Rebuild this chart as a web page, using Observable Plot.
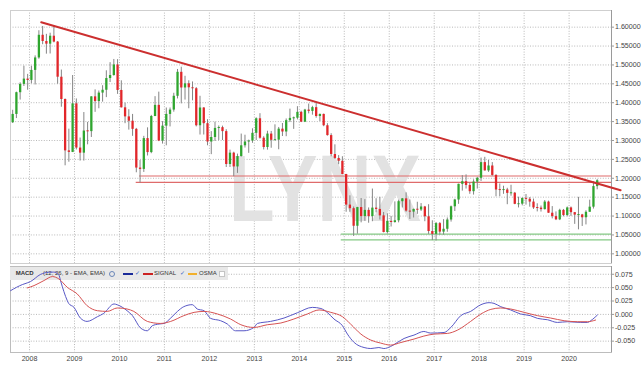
<!DOCTYPE html>
<html><head><meta charset="utf-8">
<script src="https://cdn.jsdelivr.net/npm/d3@7"></script>
<script src="https://cdn.jsdelivr.net/npm/@observablehq/plot@0.6"></script>
<style>
html,body{margin:0;padding:0;background:#fff;}
#wrap{position:relative;width:641px;height:376px;overflow:hidden;font-family:"Liberation Sans",Arial,sans-serif;background:#fff;}
#wrap svg{position:absolute;left:0;}
#hdr{position:absolute;left:10px;top:267px;width:218px;height:13px;background:#e8e8e8;font-size:6px;color:#333;line-height:13px;}
#hdr span{position:absolute;top:0;white-space:nowrap;}
#hdr .ln{top:6px;height:1.5px;width:10px;}
#hdr .ck{color:#3a62c4;font-size:6px;}
</style></head>
<body>
<div id="wrap">
  <div id="hdr">
    <span style="left:5.7px;font-weight:bold;">MACD</span>
    <span style="left:33px;">(12, 26, 9 - EMA, EMA)</span>
    <span style="left:99px;top:4px;width:4px;height:4px;border:1px solid #6a86b8;border-radius:50%;"></span>
    <span class="ln" style="left:112.5px;background:#1a2a99;"></span>
    <span class="ck" style="left:124.5px;">✓</span>
    <span class="ln" style="left:132.5px;background:#cc2222;"></span>
    <span style="left:144px;">SIGNAL</span>
    <span class="ck" style="left:169.5px;">✓</span>
    <span class="ln" style="left:178px;width:9px;background:#f2b02c;"></span>
    <span style="left:189px;">OSMA</span>
    <span style="left:209px;top:4px;width:4px;height:4px;background:#fff;border:1px solid #c4c4c4;"></span>
  </div>
</div>
<script>
// ---- tick labels / categories ----
const years = [2008,2009,2010,2011,2012,2013,2014,2015,2016,2017,2018,2019,2020];
const priceTicks = [1.00,1.05,1.10,1.15,1.20,1.25,1.30,1.35,1.40,1.45,1.50,1.55,1.60];
const macdTicks = [-0.050,-0.025,0.000,0.025,0.050,0.075];
const startYear = 2007, startMonth = 8; // first monthly candle: Aug 2007

// ---- monthly OHLC (EUR/USD), Aug 2007 .. Aug 2020 ----
const opens = [
  1.3470,1.3690,1.4265,1.4485,1.4625,
  1.4590,1.4855,1.5185,1.5785,1.5620,1.5550,1.5760,1.5605,1.4675,1.4085,1.2725,1.2685,
  1.3970,1.2800,1.2665,1.3250,1.3235,1.4155,1.4030,1.4255,1.4330,1.4640,1.4720,1.5000,
  1.4325,1.3865,1.3625,1.3510,1.3295,1.2270,1.2235,1.3050,1.2680,1.3635,1.3930,1.2985,
  1.3380,1.3690,1.3805,1.4170,1.4805,1.4390,1.4500,1.4395,1.4370,1.3390,1.3860,1.3445,
  1.2960,1.3080,1.3320,1.3340,1.3235,1.2365,1.2665,1.2300,1.2575,1.2860,1.2960,1.2985,
  1.3190,1.3575,1.3060,1.2815,1.3170,1.3005,1.3010,1.3300,1.3225,1.3525,1.3585,1.3590,
  1.3745,1.3485,1.3805,1.3770,1.3870,1.3635,1.3690,1.3390,1.3130,1.2630,1.2525,1.2450,
  1.2100,1.1290,1.1195,1.0730,1.1225,1.0985,1.1150,1.0985,1.1210,1.1175,1.1005,1.0565,
  1.0860,1.0830,1.0875,1.1380,1.1455,1.1130,1.1105,1.1175,1.1160,1.1240,1.0980,1.0590,
  1.0515,1.0800,1.0575,1.0650,1.0895,1.1245,1.1425,1.1840,1.1910,1.1810,1.1645,1.1900,
  1.2000,1.2415,1.2195,1.2325,1.2075,1.1690,1.1685,1.1690,1.1600,1.1605,1.1310,1.1315,
  1.1465,1.1445,1.1370,1.1215,1.1210,1.1170,1.1370,1.1075,1.0985,1.0900,1.1150,1.1015,
  1.1215,1.1090,1.1025,1.1030,1.0955,1.1100,1.1235,1.1780
];
const highs = [
  1.3800,1.4280,1.4527,1.4967,1.4750,
  1.4966,1.5240,1.5905,1.6018,1.5810,1.5840,1.6038,1.5620,1.4865,1.4100,1.3300,1.4720,
  1.4100,1.3065,1.3740,1.3480,1.4160,1.4340,1.4310,1.4450,1.4845,1.5060,1.5145,1.5140,
  1.4580,1.3990,1.3815,1.3690,1.3320,1.2470,1.3110,1.3335,1.3665,1.4160,1.4280,1.3500,
  1.3860,1.3860,1.4250,1.4880,1.4940,1.4700,1.4580,1.4550,1.4400,1.4170,1.3870,1.3550,
  1.3235,1.3485,1.3385,1.3380,1.3285,1.2745,1.2690,1.2640,1.3170,1.3140,1.3010,1.3310,
  1.3600,1.3710,1.3100,1.3245,1.3240,1.3415,1.3345,1.3450,1.3570,1.3830,1.3620,1.3895,
  1.3775,1.3825,1.3965,1.3905,1.3995,1.3700,1.3700,1.3445,1.3180,1.2885,1.2600,1.2570,
  1.2105,1.1535,1.1240,1.1230,1.1465,1.1435,1.1215,1.1715,1.1460,1.1495,1.1095,1.1060,
  1.0990,1.1375,1.1420,1.1465,1.1615,1.1425,1.1185,1.1365,1.1330,1.1255,1.1300,1.0875,
  1.0830,1.0830,1.0905,1.0950,1.1265,1.1445,1.1845,1.2070,1.2090,1.1880,1.1960,1.2025,
  1.2535,1.2555,1.2475,1.2415,1.2095,1.1850,1.1790,1.1735,1.1815,1.1625,1.1500,1.1485,
  1.1570,1.1490,1.1450,1.1325,1.1265,1.1410,1.1395,1.1250,1.1110,1.1180,1.1175,1.1240,
  1.1240,1.1095,1.1495,1.1045,1.1140,1.1420,1.1910,1.1965
];
const lows = [
  1.3450,1.3580,1.4070,1.4430,1.4330,
  1.4500,1.4470,1.5150,1.5535,1.5285,1.5290,1.5585,1.4490,1.3880,1.2330,1.2425,1.2680,
  1.2750,1.2455,1.2455,1.2885,1.3080,1.3745,1.3840,1.4015,1.4135,1.4535,1.4700,1.4220,
  1.3860,1.3445,1.3275,1.3110,1.2145,1.1875,1.2155,1.2590,1.2650,1.3630,1.2970,1.2905,
  1.2860,1.3360,1.3750,1.4100,1.3970,1.4070,1.3840,1.4050,1.3360,1.3145,1.3145,1.2860,
  1.2625,1.2975,1.3000,1.3000,1.2285,1.2285,1.2040,1.2130,1.2560,1.2800,1.2660,1.2925,
  1.3000,1.3035,1.2750,1.2745,1.2795,1.2990,1.2755,1.3105,1.3100,1.3475,1.3295,1.3545,
  1.3475,1.3475,1.3705,1.3670,1.3590,1.3500,1.3365,1.3115,1.2570,1.2500,1.2360,1.2095,
  1.1100,1.1100,1.0460,1.0520,1.0820,1.0860,1.0810,1.0850,1.1085,1.0895,1.0555,1.0525,
  1.0710,1.0810,1.0820,1.1215,1.1100,1.0910,1.0950,1.1045,1.1120,1.0850,1.0515,1.0350,
  1.0340,1.0495,1.0495,1.0570,1.0840,1.1120,1.1310,1.1660,1.1715,1.1575,1.1555,1.1715,
  1.1915,1.2190,1.2155,1.2055,1.1510,1.1510,1.1575,1.1300,1.1525,1.1300,1.1215,1.1270,
  1.1290,1.1235,1.1175,1.1110,1.1105,1.1160,1.1070,1.0925,1.0880,1.0880,1.0980,1.0980,
  1.0990,1.0780,1.0635,1.0725,1.0765,1.1100,1.1185,1.1695
];
const closes = [
  1.3690,1.4265,1.4485,1.4625,1.4590,
  1.4855,1.5185,1.5785,1.5620,1.5550,1.5760,1.5605,1.4675,1.4085,1.2725,1.2685,1.3970,
  1.2800,1.2665,1.3250,1.3235,1.4155,1.4030,1.4255,1.4330,1.4640,1.4720,1.5000,1.4325,
  1.3865,1.3625,1.3510,1.3295,1.2270,1.2235,1.3050,1.2680,1.3635,1.3930,1.2985,1.3380,
  1.3690,1.3805,1.4170,1.4805,1.4390,1.4500,1.4395,1.4370,1.3390,1.3860,1.3445,1.2960,
  1.3080,1.3320,1.3340,1.3235,1.2365,1.2665,1.2300,1.2575,1.2860,1.2960,1.2985,1.3190,
  1.3575,1.3060,1.2815,1.3170,1.3005,1.3010,1.3300,1.3225,1.3525,1.3585,1.3590,1.3745,
  1.3485,1.3805,1.3770,1.3870,1.3635,1.3690,1.3390,1.3130,1.2630,1.2525,1.2450,1.2100,
  1.1290,1.1195,1.0730,1.1225,1.0985,1.1150,1.0985,1.1210,1.1175,1.1005,1.0565,1.0860,
  1.0830,1.0875,1.1380,1.1455,1.1130,1.1105,1.1175,1.1160,1.1240,1.0980,1.0590,1.0515,
  1.0800,1.0575,1.0650,1.0895,1.1245,1.1425,1.1840,1.1910,1.1810,1.1645,1.1900,1.2000,
  1.2415,1.2195,1.2325,1.2075,1.1690,1.1685,1.1690,1.1600,1.1605,1.1310,1.1315,1.1465,
  1.1445,1.1370,1.1215,1.1210,1.1170,1.1370,1.1075,1.0985,1.0900,1.1150,1.1015,1.1215,
  1.1090,1.1025,1.1030,1.0955,1.1100,1.1235,1.1780,1.1935
];

// ---- drawn lines ----
const trendX = [2008.26, 2021.145];
const trendY = [1.6132, 1.1682];
const resistLevels = [1.2060, 1.1894];
const resistStart = [2010.447, 2010.373];
const supportLevels = [1.0522, 1.0372];
const supportStart = [2014.933, 2014.933];

// ---- MACD (12,26,9) ----
const macdYears = [2007.58,2007.84,2007.95,2008.02,2008.24,2008.43,2008.54,2008.65,2008.69,2008.84,2008.87,2008.99,
  2009.13,2009.28,2009.51,2009.65,2009.88,2009.95,2010.17,2010.29,2010.47,2010.62,2010.73,2010.88,2010.99,
  2011.14,2011.29,2011.43,2011.62,2011.73,2011.88,2012.03,2012.25,2012.40,2012.58,2012.77,2012.99,
  2013.07,2013.36,2013.66,2013.96,2014.29,2014.48,2014.62,2014.77,2014.96,2015.07,2015.22,2015.44,
  2015.59,2015.77,2015.88,2016.03,2016.18,2016.33,2016.55,2016.77,2016.92,2017.22,2017.37,2017.59,
  2017.81,2018.04,2018.22,2018.33,2018.48,2018.70,2018.92,2019.14,2019.30,2019.52,2019.74,2019.96,
  2020.26,2020.41,2020.48,2020.63];
const macdValues = [0.0444,0.0557,0.0589,0.0613,0.0745,0.0788,0.0791,0.0745,0.0630,0.0257,0.0206,0.0131,
  -0.0068,-0.0131,-0.0043,0.0019,0.0195,0.0180,0.0069,-0.0024,-0.0255,-0.0306,-0.0212,-0.0180,-0.0169,
  -0.0068,0.0056,0.0144,0.0182,0.0101,0.0069,-0.0075,-0.0118,-0.0180,-0.0306,-0.0306,-0.0244,
  -0.0169,-0.0131,-0.0068,0.0032,0.0131,0.0110,0.0038,-0.0086,-0.0212,-0.0368,-0.0525,-0.0619,
  -0.0638,-0.0619,-0.0638,-0.0600,-0.0525,-0.0450,-0.0387,-0.0319,-0.0349,-0.0338,-0.0244,-0.0024,
  0.0056,0.0182,0.0219,0.0206,0.0144,0.0083,0.0008,-0.0024,-0.0075,-0.0100,-0.0150,-0.0137,
  -0.0150,-0.0150,-0.0118,-0.0011];
const signalYears = [2007.95,2008.10,2008.32,2008.51,2008.65,2008.84,2009.06,2009.28,2009.51,2009.73,2009.95,
  2010.17,2010.32,2010.62,2010.91,2011.14,2011.43,2011.66,2011.88,2012.18,2012.47,2012.70,2012.99,
  2013.29,2013.59,2013.88,2014.18,2014.44,2014.70,2014.96,2015.14,2015.37,2015.59,2015.81,2016.03,
  2016.26,2016.55,2016.77,2017.00,2017.29,2017.52,2017.81,2018.04,2018.26,2018.48,2018.70,2019.00,
  2019.30,2019.59,2019.89,2020.19,2020.41,2020.59];
const signalValues = [0.0495,0.0538,0.0632,0.0707,0.0664,0.0506,0.0383,0.0163,0.0069,0.0056,0.0120,
  0.0101,0.0056,-0.0131,-0.0169,-0.0131,-0.0024,0.0038,0.0056,0.0008,-0.0086,-0.0193,-0.0244,
  -0.0193,-0.0161,-0.0086,0.0008,0.0083,0.0038,-0.0043,-0.0180,-0.0368,-0.0480,-0.0536,-0.0574,
  -0.0525,-0.0461,-0.0405,-0.0368,-0.0356,-0.0293,-0.0131,0.0008,0.0094,0.0120,0.0101,0.0038,
  -0.0024,-0.0068,-0.0118,-0.0137,-0.0137,-0.0105];

// ---- build tables ----
const xDomain = [2007.577, 2020.943];
const candles = opens.map((o, i) => {
  const m = startMonth - 1 + i;
  const yr = startYear + Math.floor(m / 12), mo = m % 12;
  return {t: yr + (mo + 0.5) / 12, o, h: highs[i], l: lows[i], c: closes[i]};
});
const minBody = 0.0026;
const bodyLo = d => Math.abs(d.c - d.o) < minBody ? (d.o + d.c) / 2 - minBody / 2 : Math.min(d.o, d.c);
const bodyHi = d => Math.abs(d.c - d.o) < minBody ? (d.o + d.c) / 2 + minBody / 2 : Math.max(d.o, d.c);
const GREEN = "#2fa62f", RED = "#e2262a";
const trend = trendX.map((x, i) => ({x, y: trendY[i]}));
const resist = resistLevels.map((y, i) => ({y, x1: resistStart[i]}));
const support = supportLevels.map((y, i) => ({y, x1: supportStart[i]}));
const macd = macdYears.map((x, i) => ({x, y: macdValues[i]}));
const signal = signalYears.map((x, i) => ({x, y: signalValues[i]}));

const font = "'Liberation Sans', Arial, sans-serif";
const gridStyle = {stroke: "#b8b8b8", strokeOpacity: 1, strokeDasharray: "1,1.6", strokeWidth: 1};

// ---- main price panel ----
const main = Plot.plot({
  width: 641, height: 265,
  marginLeft: 10, marginRight: 30, marginTop: 10, marginBottom: 2,
  style: {background: "transparent", fontFamily: font, fontSize: "7.1px", color: "#333"},
  x: {domain: xDomain, axis: null},
  y: {domain: [0.9744, 1.6441], axis: null},
  color: {type: "identity"},
  marks: [
    Plot.gridX(years, gridStyle),
    Plot.gridY(priceTicks, gridStyle),
    Plot.text(["LYNX"], {text: d => d, frameAnchor: "middle", dx: 14, dy: 54,
      fontSize: 95, fontWeight: "bold", fill: "#e2e2e2", fontFamily: font}),
    Plot.frame({stroke: "#cfcfcf"}),
    Plot.ruleX([xDomain[1]], {stroke: "#9a9a9a"}),
    Plot.axisY(priceTicks, {anchor: "right", tickSize: 2, tickPadding: 1.5, stroke: "#9a9a9a",
      tickFormat: d => d.toFixed(5), fill: "#444"}),
    Plot.ruleY(resist, {y: "y", x1: "x1", x2: () => xDomain[1], stroke: "#df6b6b", strokeWidth: 1.2}),
    Plot.ruleY(support, {y: "y", x1: "x1", x2: () => xDomain[1], stroke: "#84c984", strokeWidth: 1.2}),
    Plot.ruleX(candles, {x: "t", y1: "l", y2: "h", stroke: "#858585", strokeWidth: 1}),
    Plot.ruleX(candles, {x: "t", y1: bodyLo, y2: bodyHi, stroke: d => d.c >= d.o ? GREEN : RED, strokeWidth: 2.3}),
    Plot.line(trend, {x: "x", y: "y", stroke: "#cc2f2f", strokeWidth: 2})
  ]
});
main.style.top = "0px";

// ---- MACD panel: grid + axes ----
const macdBase = Plot.plot({
  width: 641, height: 111,
  marginLeft: 10, marginRight: 30, marginTop: 1, marginBottom: 24,
  style: {background: "transparent", fontFamily: font, fontSize: "7.1px", color: "#333"},
  x: {domain: xDomain, axis: null},
  y: {domain: [-0.0712, 0.0895], axis: null},
  marks: [
    Plot.gridX(years, gridStyle),
    Plot.gridY(macdTicks, gridStyle),
    Plot.frame({stroke: "#bdbdbd"}),
    Plot.ruleX([xDomain[1]], {stroke: "#9a9a9a"}),
    Plot.axisY(macdTicks, {anchor: "right", tickSize: 2, tickPadding: 1.5, stroke: "#9a9a9a",
      tickFormat: d => d.toFixed(3), fill: "#444"}),
    Plot.axisX(years, {anchor: "bottom", tickSize: 0, tickPadding: 3, tickFormat: d => String(d), fill: "#444"})
  ]
});
macdBase.style.top = "265px";

// ---- MACD panel: lines (above header) ----
const macdLines = Plot.plot({
  width: 641, height: 111,
  marginLeft: 10, marginRight: 30, marginTop: 1, marginBottom: 24,
  style: {background: "transparent"},
  x: {domain: xDomain, axis: null},
  y: {domain: [-0.0712, 0.0895], axis: null},
  marks: [
    Plot.line(macd, {x: "x", y: "y", stroke: "#5858c6", strokeWidth: 1, curve: "monotone-x"}),
    Plot.line(signal, {x: "x", y: "y", stroke: "#d65353", strokeWidth: 1, curve: "monotone-x"})
  ]
});
macdLines.style.top = "265px";

const wrap = document.getElementById("wrap");
const hdr = document.getElementById("hdr");
wrap.insertBefore(main, hdr);
wrap.insertBefore(macdBase, hdr);
wrap.appendChild(macdLines);

d3.select(main).selectAll("text")
  .filter(function () { return this.textContent === "LYNX"; })
  .attr("textLength", 192).attr("lengthAdjust", "spacingAndGlyphs");
</script>
</body></html>
